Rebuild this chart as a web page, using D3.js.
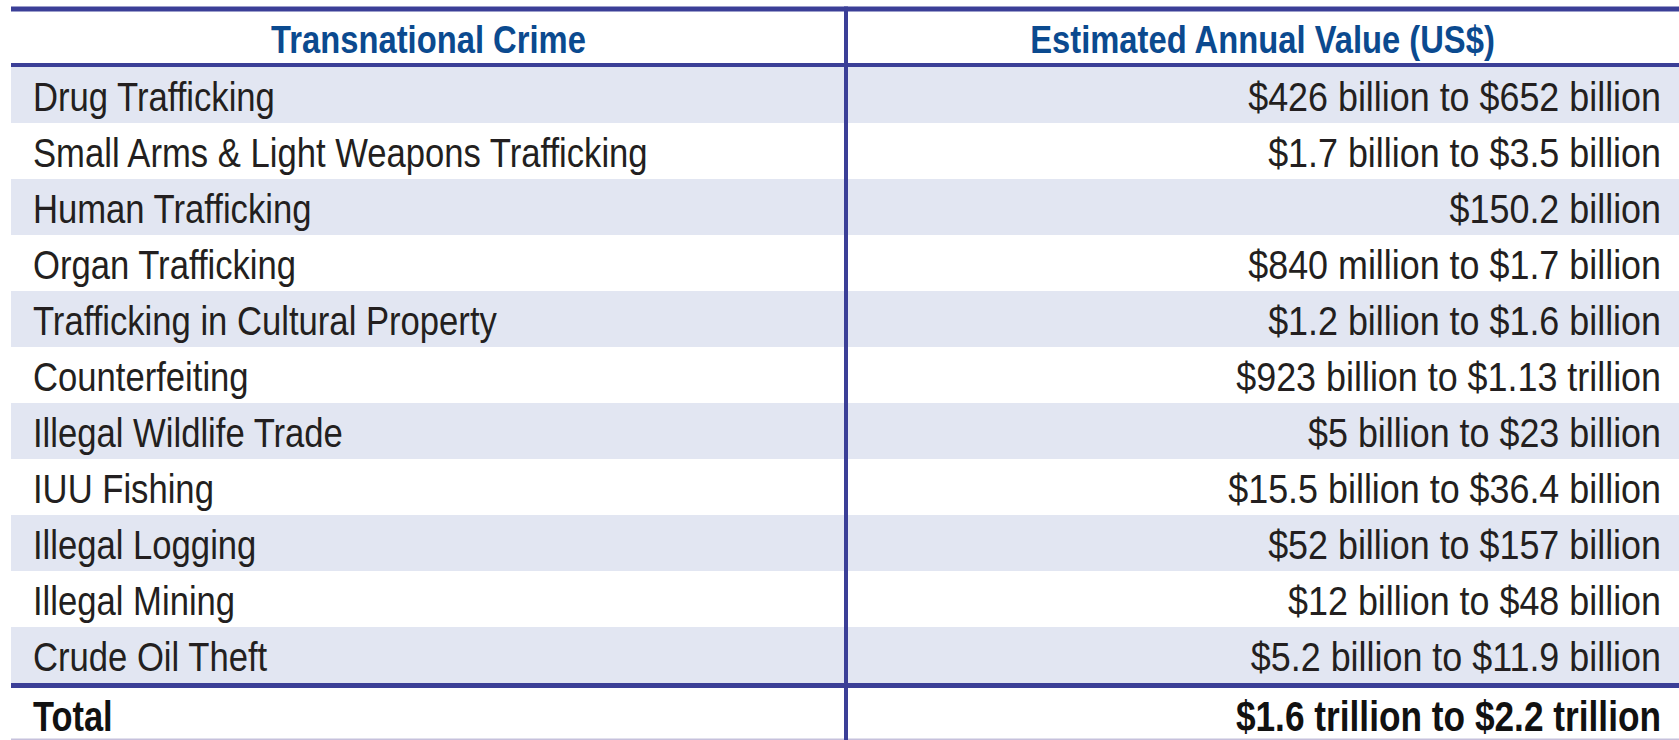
<!DOCTYPE html>
<html>
<head>
<meta charset="utf-8">
<script src="https://cdn.jsdelivr.net/npm/d3@7"></script>
<style>
  body { margin: 0; background: #fff; }
  svg text { font-family: "Liberation Sans", Arial, sans-serif; }
</style>
</head>
<body>
<svg id="table"></svg>
<script>
var headers = ["Transnational Crime", "Estimated Annual Value (US$)"];

var crimes = [
    "Drug Trafficking",
    "Small Arms & Light Weapons Trafficking",
    "Human Trafficking",
    "Organ Trafficking",
    "Trafficking in Cultural Property",
    "Counterfeiting",
    "Illegal Wildlife Trade",
    "IUU Fishing",
    "Illegal Logging",
    "Illegal Mining",
    "Crude Oil Theft"
];

var values = [
    "$426 billion to $652 billion",
    "$1.7 billion to $3.5 billion",
    "$150.2 billion",
    "$840 million to $1.7 billion",
    "$1.2 billion to $1.6 billion",
    "$923 billion to $1.13 trillion",
    "$5 billion to $23 billion",
    "$15.5 billion to $36.4 billion",
    "$52 billion to $157 billion",
    "$12 billion to $48 billion",
    "$5.2 billion to $11.9 billion"
];

var total = ["Total", "$1.6 trillion to $2.2 trillion"];

// condensed look: squeeze Liberation Sans horizontally
function place(x, y, sx) {
    return "translate(" + x + "," + y + ") scale(" + sx + ",1)";
}

function drawTable() {
    var width = 1679, height = 740;
    var left = 11, split = 846;
    var lineColor = "#3b3f97", shade = "#e2e6f2", ink = "#231f20", blue = "#0b4a8f";

    var svg = d3.select("#table")
        .attr("width", width)
        .attr("height", height);

    var rows = d3.scaleBand()
        .domain(crimes)
        .range([67, 683])
        .padding(0);

    var baseline = function(d) { return rows(d) + 44; };

    // shaded bands
    svg.selectAll(".band")
        .data(crimes.filter(function(d, i) { return i % 2 === 0; }))
        .enter().append("rect")
        .attr("class", "band")
        .attr("x", left)
        .attr("y", function(d) { return rows(d); })
        .attr("width", width - left)
        .attr("height", rows.bandwidth())
        .attr("fill", shade);

    // header text
    svg.selectAll(".head")
        .data(headers)
        .enter().append("text")
        .attr("class", "head")
        .attr("transform", function(d, i) {
            return place(i === 0 ? (left + split) / 2 : (split + width) / 2, 53, 0.84);
        })
        .attr("text-anchor", "middle")
        .attr("font-size", 39)
        .attr("font-weight", "bold")
        .attr("fill", blue)
        .text(function(d) { return d; });

    // body rows
    svg.selectAll(".crime")
        .data(crimes)
        .enter().append("text")
        .attr("class", "crime")
        .attr("transform", function(d) { return place(33, baseline(d), 0.845); })
        .attr("font-size", 41)
        .attr("fill", ink)
        .text(function(d) { return d; });

    svg.selectAll(".value")
        .data(crimes)
        .enter().append("text")
        .attr("class", "value")
        .attr("transform", function(d) { return place(1661, baseline(d), 0.875); })
        .attr("text-anchor", "end")
        .attr("font-size", 41)
        .attr("fill", ink)
        .text(function(d, i) { return values[i]; });

    // total row
    svg.append("text")
        .attr("transform", place(33, 731, 0.8))
        .attr("font-size", 43)
        .attr("font-weight", "bold")
        .attr("fill", "#111")
        .text(total[0]);

    svg.append("text")
        .attr("transform", place(1661, 731, 0.82))
        .attr("text-anchor", "end")
        .attr("font-size", 43)
        .attr("font-weight", "bold")
        .attr("fill", "#111")
        .text(total[1]);

    // rules
    svg.append("rect").attr("x", left).attr("y", 6.5).attr("width", width - left).attr("height", 5).attr("fill", lineColor);
    svg.append("rect").attr("x", left).attr("y", 63).attr("width", width - left).attr("height", 4).attr("fill", lineColor);
    svg.append("rect").attr("x", left).attr("y", 683).attr("width", width - left).attr("height", 5).attr("fill", lineColor);
    svg.append("rect").attr("x", left).attr("y", 738.5).attr("width", width - left).attr("height", 1.5).attr("fill", "#c6c1dc");
    svg.append("rect").attr("x", 844).attr("y", 6.5).attr("width", 4).attr("height", height - 6.5).attr("fill", lineColor);
}

drawTable();
</script>
</body>
</html>
